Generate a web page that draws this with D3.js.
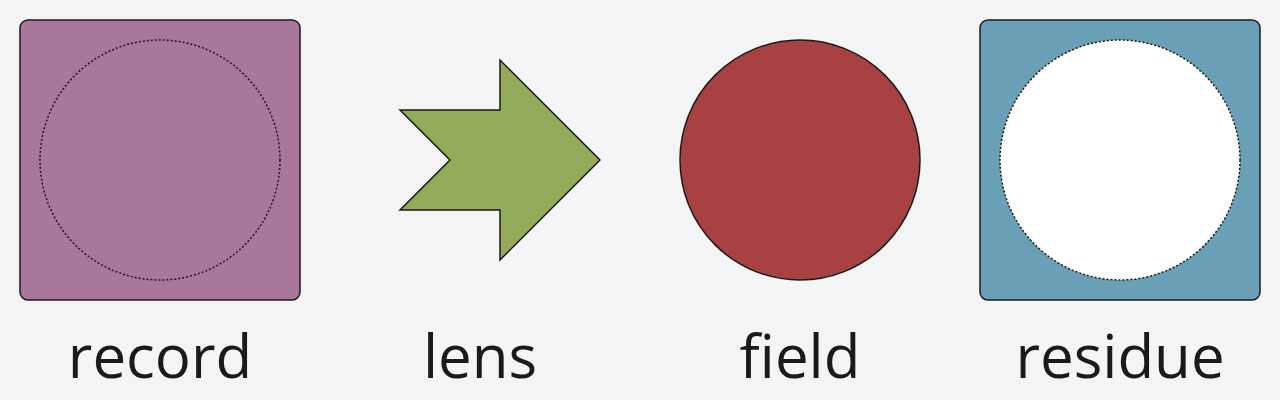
<!DOCTYPE html>
<html>
<head>
<meta charset="utf-8">
<script src="https://cdn.jsdelivr.net/npm/d3@7"></script>
<style>
  body { margin: 0; background: #f4f4f4; }
  svg { display: block; }
</style>
</head>
<body>
<svg id="chart"></svg>
<script>
const labels = ["record", "lens", "field", "residue"];
const shapes = ["squareRing", "arrow", "disc", "squareHole"];
const colors = ["#a9769c", "#93aa5a", "#a84242", "#6aa0b5"];

const width = 1280;
const height = 400;
const half = 140;

const x = d3.scalePoint().domain(labels).range([160, 1120]);
const cy = 160;

const svg = d3.select("#chart").attr("width", width).attr("height", height);

const g = svg.selectAll("g.item")
  .data(labels)
  .join("g")
  .attr("class", "item")
  .attr("transform", d => `translate(${x(d)},${cy})`);

g.each(function(d, i) {
  const el = d3.select(this);
  const kind = shapes[i];
  if (kind === "squareRing" || kind === "squareHole") {
    el.append("rect")
      .attr("x", -half).attr("y", -half)
      .attr("width", half * 2).attr("height", half * 2)
      .attr("rx", 8)
      .attr("fill", colors[i])
      .attr("stroke", "#1a1a1a").attr("stroke-width", 1.5);
    el.append("circle")
      .attr("r", 120)
      .attr("fill", kind === "squareHole" ? "#ffffff" : "none")
      .attr("stroke", "#1a1a1a").attr("stroke-width", 1.5)
      .attr("stroke-dasharray", "2,2");
  } else if (kind === "arrow") {
    const pts = [[-80, -50], [20, -50], [20, -100], [120, 0], [20, 100], [20, 50], [-80, 50], [-30, 0]];
    el.append("path")
      .attr("d", d3.line()(pts) + "Z")
      .attr("fill", colors[i])
      .attr("stroke", "#1a1a1a").attr("stroke-width", 1.5);
  } else {
    el.append("circle")
      .attr("r", 120)
      .attr("fill", colors[i])
      .attr("stroke", "#1a1a1a").attr("stroke-width", 1.5);
  }
});

svg.selectAll("text.label")
  .data(labels)
  .join("text")
  .attr("class", "label")
  .attr("x", d => x(d))
  .attr("y", 378)
  .attr("text-anchor", "middle")
  .attr("font-family", "Open Sans, Noto Sans, sans-serif")
  .attr("font-size", 60)
  .attr("fill", "#1a1a1a")
  .text(d => d);
</script>
</body>
</html>
